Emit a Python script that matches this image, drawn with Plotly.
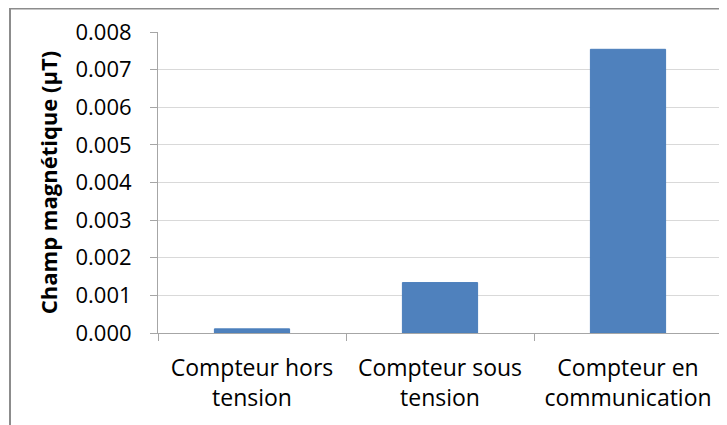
import plotly.graph_objects as go

categories = ["Compteur hors<br>tension", "Compteur sous<br>tension", "Compteur en<br>communication"]
values = [0.00011, 0.00134, 0.00754]
y_ticks = [0.000, 0.001, 0.002, 0.003, 0.004, 0.005, 0.006, 0.007, 0.008]
y_title = "Champ magnétique (µT)"

FONT = "Open Sans"
# page body has an 8px margin: figure coordinates = page coordinates - 8
W, H = 719, 417
L, R, T, B = 150, 5, 24, 92
PW, PH = W - L - R, H - T - B

def px(xp):
    return (xp - 8 - L) / PW

def py(yp):
    return (H - B - (yp - 8)) / PH

fig = go.Figure(go.Bar(
    x=categories, y=values,
    marker=dict(color="#4F81BD", line=dict(color="#4A7EBB", width=1)),
))

fig.update_layout(
    width=W, height=H,
    margin=dict(l=L, r=R, t=T, b=B),
    paper_bgcolor="white", plot_bgcolor="white",
    bargap=0.6,
    showlegend=False,
    font=dict(family=FONT, size=22, color="#000000"),
    xaxis=dict(
        showline=True, linecolor="#A6A6A6", linewidth=1,
        ticks="outside", ticklen=7, tickcolor="#A6A6A6",
        tickson="boundaries", showgrid=False,
        tickfont=dict(size=23),
        ticklabelstandoff=14,
    ),
    yaxis=dict(
        range=[0, 0.008], tickvals=y_ticks, tickformat=".3f",
        showline=True, linecolor="#A6A6A6", linewidth=1,
        ticks="outside", ticklen=7, tickcolor="#A6A6A6",
        showgrid=True, gridcolor="#D9D9D9", gridwidth=1,
        zeroline=False,
        tickfont=dict(size=22),
        ticklabelstandoff=14,
        title=dict(text="<b>" + y_title + "</b>", font=dict(size=22), standoff=11),
    ),
    shapes=[
        dict(type="line", xref="paper", yref="paper",
             x0=px(10), x1=px(10), y0=py(7), y1=py(450),
             line=dict(color="#8C8C8C", width=2)),
        dict(type="line", xref="paper", yref="paper",
             x0=px(10), x1=px(760), y0=py(8.5), y1=py(8.5),
             line=dict(color="#8C8C8C", width=2)),
    ],
)

fig.write_html("out.html")
